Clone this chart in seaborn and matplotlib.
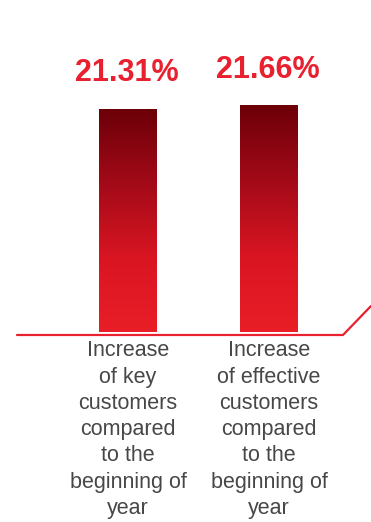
import numpy as np
import matplotlib
matplotlib.use("Agg")
import matplotlib.pyplot as plt
from matplotlib.colors import LinearSegmentedColormap
from matplotlib.lines import Line2D
import seaborn as sns
import pandas as pd

categories = [
    "Increase\nof key\ncustomers\ncompared\nto the\nbeginning of\nyear",
    "Increase\nof effective\ncustomers\ncompared\nto the\nbeginning of\nyear",
]
values = [21.31, 21.66]
value_labels = ["21.31%", "21.66%"]

df = pd.DataFrame({"category": categories, "value": values})

sns.set_theme(style="white")
plt.rcParams["font.family"] = ["Liberation Sans", "DejaVu Sans"]

W, H = 371, 522
fig = plt.figure(figsize=(W / 100, H / 100), dpi=100)
fig.patch.set_facecolor("white")

# axes: bottom edge sits on the bar base line
base_px = 190
ax = fig.add_axes([0, base_px / H, 1, 1 - base_px / H])

sns.barplot(data=df, x="category", y="value", ax=ax, width=0.41,
            color="#d0101c", saturation=1, linewidth=0)

unit_px = 141.0
ax.set_xlim(-128 / unit_px, (W - 128) / unit_px)
px_per_val = 223 / 21.31
ax.set_ylim(0, (H - base_px) / px_per_val)

# vertical dark-to-red gradient inside each bar
cmap = LinearSegmentedColormap.from_list(
    "barfade", ["#e91e27", "#d91522", "#a30a18", "#6c0008"])
grad = np.linspace(0, 1, 256).reshape(-1, 1)
for patch in ax.patches:
    x0, y0 = patch.get_x(), patch.get_y()
    w, h = patch.get_width(), patch.get_height()
    im = ax.imshow(grad, cmap=cmap, aspect="auto", origin="lower",
                   extent=[x0, x0 + w, y0, y0 + h], zorder=patch.get_zorder())
    im.set_clip_path(patch)
    patch.set_facecolor("none")

# value labels above the bars
for patch, lab in zip(ax.patches, value_labels):
    ax.annotate(lab, (patch.get_x() + patch.get_width() / 2, patch.get_height()),
                xytext=(-1, 15), textcoords="offset points",
                ha="center", va="bottom", fontsize=22, fontweight="bold",
                color="#e8202f")

# category labels
ax.set_xlabel("")
ax.set_ylabel("")
ax.set_yticks([])
ax.tick_params(axis="x", length=0, pad=6)
for t in ax.get_xticklabels():
    t.set_fontsize(15.5)
    t.set_color("#474747")
    t.set_linespacing(1.33)
    t.set_ha("center")
    t.set_va("top")
for s in ax.spines.values():
    s.set_visible(False)
ax.set_facecolor("none")

# red base line with an upward kink on the right
fig.add_artist(Line2D([17 / W, 343 / W, 1.0],
                      [1 - 335 / H, 1 - 335 / H, 1 - 306 / H],
                      transform=fig.transFigure, color="#e8202f", lw=1.6))

fig.savefig("out.png", dpi=100, facecolor="white")
